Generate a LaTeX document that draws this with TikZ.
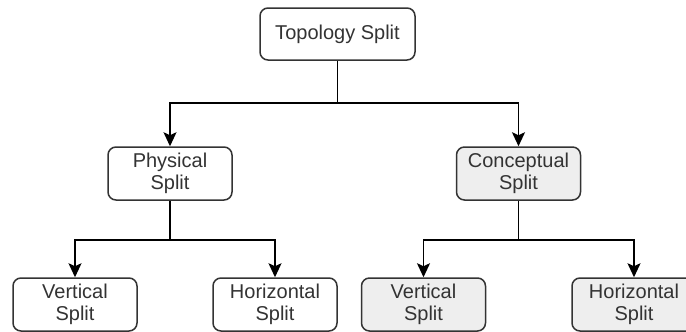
\documentclass[tikz,border=0pt]{standalone}
\usepackage{fontspec}
\setmainfont{Liberation Sans}
\usetikzlibrary{arrows.meta}
\definecolor{inkdark}{HTML}{333333}
\definecolor{boxgray}{HTML}{EEEEEE}
\tikzset{
  x=1pt, y=-1pt,
  box/.style={draw=inkdark, line width=1.5pt, rounded corners=8pt, fill=white,
    minimum width=124pt, minimum height=53pt, inner sep=0pt,
    align=center, text=inkdark, font=\fontsize{20}{22}\selectfont},
  graybox/.style={box, fill=boxgray},
  link/.style={draw=black, line width=1.7pt},
  arr/.style={link, -{Stealth[length=14pt, width=13pt, inset=3pt]}},
}
\begin{document}
\begin{tikzpicture}
\useasboundingbox (0,0) rectangle (686,332);
\clip (0,0) rectangle (686,332);

% root
\node[box, minimum width=155pt, minimum height=52pt] (root) at (337.5,34) {Topology Split};

% second level
\node[box] (phys) at (170,173.5) {Physical\\Split};
\node[graybox] (conc) at (518.5,173.5) {Conceptual\\Split};

% leaves
\node[box] (pv) at (75,304.5) {Vertical\\Split};
\node[box] (ph) at (275,304.5) {Horizontal\\Split};
\node[graybox] (cv) at (423.5,304.5) {Vertical\\Split};
\node[graybox] (ch) at (634,304.5) {Horizontal\\Split};

% junction points of the orthogonal connectors
\coordinate (rj) at (337.5,103);
\coordinate (pj) at (170,240);
\coordinate (cj) at (518.5,240);

\draw[link] (root.south) -- (rj);
\draw[arr] (rj) -| (phys.north);
\draw[arr] (rj) -| (conc.north);

\draw[link] (phys.south) -- (pj);
\draw[arr] (pj) -| (pv.north);
\draw[arr] (pj) -| (ph.north);

\draw[link] (conc.south) -- (cj);
\draw[arr] (cj) -| (cv.north);
\draw[arr] (cj) -| (ch.north);
\end{tikzpicture}
\end{document}
